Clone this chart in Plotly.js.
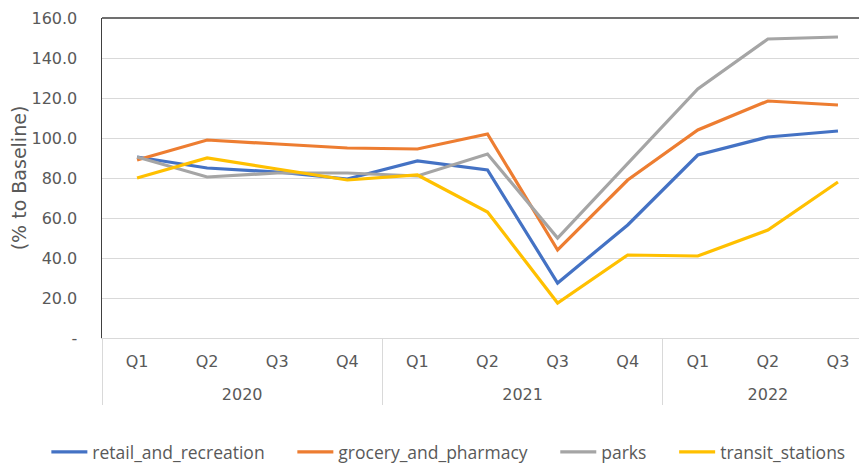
<!DOCTYPE html>
<html>
<head>
<meta charset="utf-8">
<script src="https://cdn.plot.ly/plotly-3.0.1.min.js"></script>
<style>
  html, body { margin: 0; padding: 0; background: #ffffff; }
  #chart { width: 859px; height: 465px; }
</style>
</head>
<body>
<div id="chart"></div>
<script>
// Quarterly mobility index, % of baseline
const years    = ['2020', '2020', '2020', '2020', '2021', '2021', '2021', '2021', '2022', '2022', '2022'];
const quarters = ['Q1', 'Q2', 'Q3', 'Q4', 'Q1', 'Q2', 'Q3', 'Q4', 'Q1', 'Q2', 'Q3'];

const retailAndRecreation = [90.5, 85, 83, 79.5, 88.5, 84, 27.5, 56.5, 91.5, 100.5, 103.5];
const groceryAndPharmacy  = [89, 99, 97, 95, 94.5, 102, 44, 79, 104, 118.5, 116.5];
const parks               = [90.5, 80.5, 82.5, 82.5, 81, 92, 50, 87.5, 124.5, 149.5, 150.5];
const transitStations     = [80, 90, 84.5, 79, 81.5, 63, 17.5, 41.5, 41, 54, 78];

const yTickVals = [0, 20, 40, 60, 80, 100, 120, 140, 160];
const yTickText = ['-', '20.0', '40.0', '60.0', '80.0', '100.0', '120.0', '140.0', '160.0'];

// a leading line break drops the year row further below the quarter row
const yearRow = years.map(y => '<br>' + y);

// non-breaking spaces widen the gap after each legend entry
const gap = '\u00a0\u00a0\u00a0\u00a0\u00a0';

const seriesDefs = [
  { label: 'retail_and_recreation' + gap, y: retailAndRecreation, color: '#4472C4' },
  { label: 'grocery_and_pharmacy' + gap,  y: groceryAndPharmacy,  color: '#ED7D31' },
  { label: 'parks' + gap,                 y: parks,               color: '#A5A5A5' },
  { label: 'transit_stations',            y: transitStations,     color: '#FFC000' }
];

const traces = seriesDefs.map(s => ({
  type: 'scatter',
  mode: 'lines',
  name: s.label,
  x: [yearRow, quarters],
  y: s.y,
  line: { color: s.color, width: 3.2 },
  hoverinfo: 'skip'
}));

const tickFont = { family: 'DejaVu Sans', size: 16, color: '#595959' };

const layout = {
  width: 859,
  height: 465,
  margin: { l: 102, r: 0, t: 18, b: 127, pad: 0, autoexpand: false },
  paper_bgcolor: '#ffffff',
  plot_bgcolor: '#ffffff',
  showlegend: true,
  legend: {
    orientation: 'h',
    xref: 'paper',
    yref: 'paper',
    x: -0.0735,
    xanchor: 'left',
    y: -0.356,
    yanchor: 'middle',
    font: { family: 'Open Sans', size: 17.5, color: '#595959' },
    itemwidth: 36,
    tracegroupgap: 0
  },
  xaxis: {
    type: 'multicategory',
    range: [-0.5, 10.3],
    showgrid: false,
    showline: true,
    linecolor: '#D9D9D9',
    linewidth: 1,
    ticks: '',
    ticklabelstandoff: 9,
    tickfont: tickFont,
    showdividers: true,
    dividercolor: '#D9D9D9',
    dividerwidth: 1,
    zeroline: false
  },
  yaxis: {
    range: [0, 160],
    tickvals: yTickVals,
    ticktext: yTickText,
    tickfont: tickFont,
    ticks: '',
    ticklabelstandoff: 20,
    showgrid: true,
    gridcolor: '#D9D9D9',
    gridwidth: 1,
    zeroline: false,
    showline: true,
    linecolor: '#404040',
    linewidth: 1.5,
    title: {
      text: '(% to Baseline)',
      font: { family: 'DejaVu Sans', size: 19, color: '#595959' },
      standoff: 0
    }
  },
  shapes: [
    {
      type: 'line', xref: 'paper', yref: 'paper',
      x0: 0, x1: 1, y0: 1, y1: 1,
      line: { color: '#404040', width: 1.5 }
    }
  ]
};

Plotly.newPlot('chart', traces, layout, { displayModeBar: false, staticPlot: true });
</script>
</body>
</html>
